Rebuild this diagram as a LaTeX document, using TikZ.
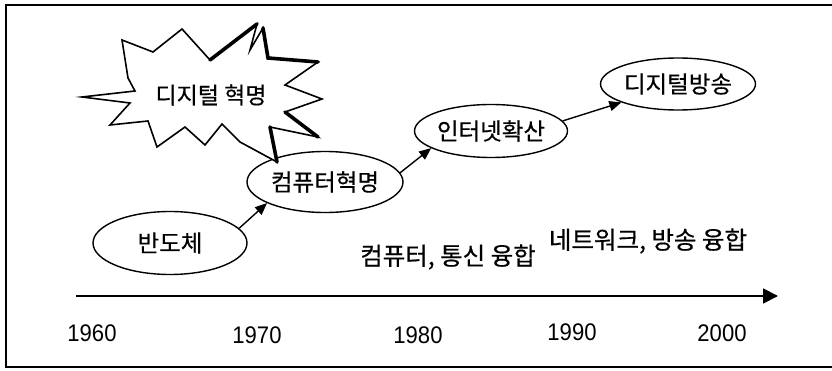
\documentclass[tikz,border=0pt]{standalone}
\usepackage{fontspec}
\newfontfamily\kr[FakeBold=0.5]{Noto Sans CJK KR}
\newfontfamily\yr[FakeStretch=0.92]{Liberation Sans}
\usetikzlibrary{shapes.geometric,arrows.meta}
\tikzset{
  evt/.style={draw, line width=1.4pt, ellipse, inner sep=0pt, fill=white,
    font=\kr\fontsize{23.5}{23.5}\selectfont},
  link/.style={line width=1.4pt, -{Triangle[length=12pt,width=10pt]}},
  yearlbl/.style={font=\yr\fontsize{24}{24}\selectfont, inner sep=0pt},
  lbl/.style={font=\kr\fontsize{24.5}{24.5}\selectfont, inner sep=0pt},
  burst/.style={line width=1.6pt, fill=white, line join=miter},
  thickstroke/.style={line width=3.6pt, line cap=round},
}
\begin{document}
\begin{tikzpicture}[x=1pt,y=-1pt]
\useasboundingbox (0,0) rectangle (832,371);
% frame
\draw[line width=1.5pt] (832,5) -- (6,5) -- (6,367) -- (832,367);
% time axis
\coordinate (a0) at (76,296);
\coordinate (a1) at (778,296);
\draw[line width=1.8pt, -{Triangle[length=15pt,width=15pt]}] (a0) -- (a1);
% years
\node[yearlbl] (y60) at (92,333) {1960};
\node[yearlbl] (y70) at (257,335) {1970};
\node[yearlbl] (y80) at (418,335) {1980};
\node[yearlbl] (y90) at (572,332) {1990};
\node[yearlbl] (y00) at (722,333) {2000};
% events
\node[evt, minimum width=154pt, minimum height=63pt] (b) at (170,243) {반도체};
\node[evt, minimum width=156pt, minimum height=61pt] (c) at (325,182) {컴퓨터혁명};
\node[evt, minimum width=153pt, minimum height=53pt] (i) at (491,131) {인터넷확산};
\node[evt, minimum width=155pt, minimum height=52pt] (d) at (678,84) {디지털방송};
% connectors
\draw[link] (b.12) -- (c.200);
\draw[link] (c.7) -- (i.196);
\draw[link] (i.8) -- (d.198);
% starburst
\draw[burst] (82,97) -- (135,91) -- (128,78) -- (122,40) -- (153,52) -- (182,29)
  -- (210,60) -- (257,24) -- (250,50) -- (263,28) -- (268,58) -- (318,62)
  -- (285,85) -- (322,99) -- (285,112) -- (318,137) -- (270,127) -- (277,162)
  -- (240,142) -- (222,124) -- (205,145) -- (185,127) -- (157,147) -- (148,121)
  -- (110,125) -- (130,103) -- cycle;
\draw[thickstroke] (210,60) -- (257,24);
\draw[thickstroke] (263,28) -- (268,58) -- (318,62);
\draw[thickstroke] (285,112) -- (318,137);
\draw[thickstroke] (270,127) -- (277,162);
\node[lbl, font=\kr\fontsize{23}{23}\selectfont] (rev) at (211,95) {디지털 혁명};
% free labels
\node[lbl] (t1) at (448,257) {컴퓨터, 통신 융합};
\node[lbl] (t2) at (648,241) {네트워크, 방송 융합};
\end{tikzpicture}
\end{document}
